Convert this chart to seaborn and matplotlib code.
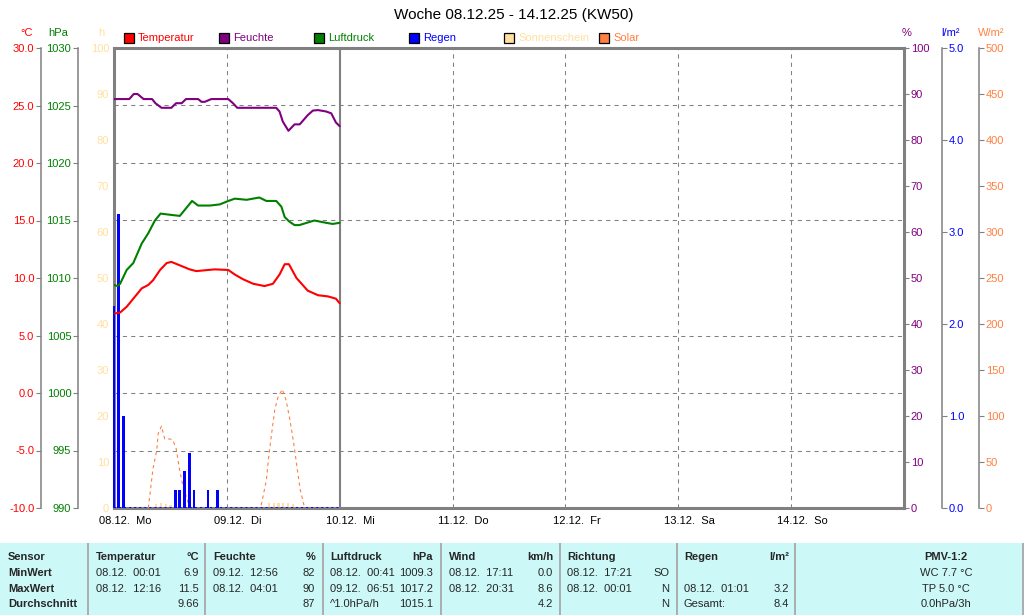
import numpy as np
import pandas as pd
import matplotlib
matplotlib.use("Agg")
import matplotlib.pyplot as plt
import matplotlib.ticker as mticker
from matplotlib.patches import Rectangle
from matplotlib.transforms import ScaledTranslation
import seaborn as sns

# ---------------- data (hours since 08.12. 00:00) ----------------
title_text = "Woche 08.12.25 - 14.12.25 (KW50)"
day_labels = ["08.12.  Mo", "09.12.  Di", "10.12.  Mi", "11.12.  Do",
              "12.12.  Fr", "13.12.  Sa", "14.12.  So"]

temp_hours = [0, 1.3, 2.7, 4.1, 5.9, 7.3, 8.3, 9.8, 11.2, 12.2, 14.0, 16.1, 17.5,
              21.4, 24.3, 25.7, 27.4, 29.6, 32.0, 33.8, 35.2, 36.3, 37.2, 38.8,
              41.2, 43.4, 45.5, 47.2, 48.0]
temp_values = [6.9, 7.0, 7.5, 8.2, 9.1, 9.4, 9.8, 10.7, 11.3, 11.4, 11.1, 10.75, 10.6,
               10.75, 10.7, 10.3, 9.9, 9.5, 9.3, 9.5, 10.3, 11.2, 11.2, 10.0,
               8.9, 8.5, 8.4, 8.2, 7.8]

hum_hours = [0, 3.25, 4.2, 5.0, 6.3, 8.1, 8.8, 10.1, 12.2, 13.2, 14.4, 15.3, 17.9,
             18.6, 19.3, 20.7, 24.3, 25.3, 26.2, 34.5, 35.2, 35.9, 37.1, 38.4, 39.5,
             41.2, 42.3, 43.4, 45.1, 46.2, 47.2, 48.0]
hum_values = [88.9, 88.9, 90.0, 90.0, 88.9, 88.9, 88.0, 87.0, 87.0, 88.0, 88.0, 88.9, 88.9,
              88.3, 88.3, 88.9, 88.9, 88.0, 87.0, 87.0, 86.2, 84.0, 82.0, 83.4, 83.4,
              85.4, 86.4, 86.5, 86.2, 85.8, 83.8, 83.0]

pres_hours = [0, 0.7, 1.3, 2.0, 2.7, 4.1, 5.9, 7.3, 8.7, 9.9, 11.9, 14.0, 15.4, 16.6,
              17.9, 20.4, 22.5, 24.3, 25.7, 28.2, 30.9, 32.4, 34.5, 35.6, 36.3, 37.3,
              38.4, 39.4, 42.6, 45.1, 46.5, 48.0]
pres_values = [1009.4, 1009.3, 1009.5, 1010.1, 1010.7, 1011.3, 1013.0, 1013.9, 1015.0,
               1015.6, 1015.5, 1015.4, 1016.1, 1016.7, 1016.3, 1016.3, 1016.4, 1016.7,
               1016.9, 1016.8, 1017.0, 1016.7, 1016.7, 1016.2, 1015.3, 1014.9, 1014.6,
               1014.6, 1015.0, 1014.8, 1014.7, 1014.8]

rain_hours = [0, 1, 2, 13, 14, 15, 16, 17, 20, 22]
rain_values = [2.2, 3.2, 1.0, 0.2, 0.2, 0.4, 0.6, 0.2, 0.2, 0.2]

sun_hours = [9, 10, 11, 12, 33, 34, 35, 36, 37, 38]
sun_values = [0.9, 1.1, 0.9, 0.6, 1.0, 1.0, 1.0, 1.0, 1.0, 0.8]

solar_day = ["Mo"] * 13 + ["Di"] * 13
solar_hours = [7.3, 8.3, 9.1, 9.4, 10.1, 10.8, 11.9, 12.5, 13.2, 13.9, 14.7, 15.4, 16.1,
               31.3, 32.4, 32.9, 33.7, 34.2, 34.9, 35.8, 36.6, 37.3, 38.2, 38.9, 39.6, 40.5]
solar_values = [0, 43, 63, 81, 89, 75, 75, 74, 65, 43, 23, 12, 0,
                3, 30, 56, 88, 107, 121, 129, 117, 99, 71, 45, 20, 1]

temp_ticks = np.arange(-10, 31, 5)
pres_ticks = np.arange(990, 1031, 5)
h_ticks = np.arange(0, 101, 10)
hum_ticks = np.arange(0, 101, 10)
rain_ticks = np.arange(0, 5.1, 1.0)
solar_ticks = np.arange(0, 501, 50)

legend_labels = ["Temperatur", "Feuchte", "Luftdruck", "Regen", "Sonnenschein", "Solar"]

tab_sensor = ["Sensor", "MinWert", "MaxWert", "Durchschnitt"]
tab_temp_l = ["Temperatur", "08.12.  00:01", "08.12.  12:16", ""]
tab_temp_r = ["°C", "6.9", "11.5", "9.66"]
tab_hum_l = ["Feuchte", "09.12.  12:56", "08.12.  04:01", ""]
tab_hum_r = ["%", "82", "90", "87"]
tab_pres_l = ["Luftdruck", "08.12.  00:41", "09.12.  06:51", "^1.0hPa/h"]
tab_pres_r = ["hPa", "1009.3", "1017.2", "1015.1"]
tab_wind_l = ["Wind", "08.12.  17:11", "08.12.  20:31", ""]
tab_wind_r = ["km/h", "0.0", "8.6", "4.2"]
tab_dir_l = ["Richtung", "08.12.  17:21", "08.12.  00:01", ""]
tab_dir_r = ["", "SO", "N", "N"]
tab_rain_l = ["Regen", "", "08.12.  01:01", "Gesamt:"]
tab_rain_r = ["l/m²", "", "3.2", "8.4"]
tab_pmv = ["PMV-1:2", "WC 7.7 °C", "TP 5.0 °C", "0.0hPa/3h"]

# ---------------- style ----------------
sns.set_theme(style="white")
plt.rcParams["font.family"] = ["Liberation Sans", "DejaVu Sans"]
plt.rcParams["font.size"] = 8

C_TEMP, C_HUM, C_PRES = "#FF0000", "#800080", "#008000"
C_RAIN, C_SUN, C_SOL = "#0000FF", "#FFE0A0", "#FF8040"
GRAY = "#808080"
TAB_BG = "#CCF8F8"
legend_colors = [C_TEMP, C_HUM, C_PRES, C_RAIN, C_SUN, C_SOL]

W, H, DPI = 1024, 615, 100
PL, PR, PT, PB = 114, 904, 48, 508
PW = PR - PL


def fx(px):
    return px / W


def fy(py):
    return 1 - py / H


fig = plt.figure(figsize=(W / DPI, H / DPI), dpi=DPI)
fig.patch.set_facecolor("white")

ax = fig.add_axes([fx(PL), fy(PB), PW / W, (PB - PT) / H])
n_days = len(day_labels)
xmax = 24 * n_days
ax.set_xlim(0, xmax)
ax.set_ylim(0, 100)
ax.set_facecolor("white")

# grid
grid_kw = dict(color=GRAY, lw=0.75, linestyle=(0, (4, 4)))
ax.set_yticks(h_ticks)
ax.set_yticklabels([str(v) for v in h_ticks])
ax.set_yticks(np.linspace(0, 100, len(temp_ticks))[1:-1], minor=True)
ax.tick_params(axis="y", which="both", length=0, pad=3.5, labelcolor=C_SUN, labelsize=8)
ax.grid(False)
ax.yaxis.grid(True, which="minor", **grid_kw)
day_ticks = np.arange(0, xmax + 1, 24)
ax.set_xticks(day_ticks)
ax.set_xticklabels(day_labels + [""])
ax.xaxis.grid(True, which="major", **grid_kw)
ax.tick_params(axis="x", length=2.5, width=1, color=GRAY, pad=3, labelsize=8,
               labelcolor="black", direction="out")
for lab in ax.get_xticklabels():
    lab.set_transform(lab.get_transform() + ScaledTranslation(11 / DPI, 0, fig.dpi_scale_trans))
for s in ax.spines.values():
    s.set_visible(True)
    s.set_color(GRAY)
    s.set_linewidth(2.2)
ax.set_axisbelow(True)

# "now" line at end of data
ax.axvline(max(temp_hours), color=GRAY, lw=1.5, zorder=1)

# sunshine bars
ax.bar(sun_hours, sun_values, width=0.5, color=C_SUN, linewidth=0, zorder=2)


def make_twin(side, offset_px, ylim, ticks, fmt, color):
    t = ax.twinx()
    t.set_ylim(*ylim)
    for s in t.spines.values():
        s.set_visible(False)
    if offset_px:
        sp = t.spines[side]
        sp.set_visible(True)
        pos = -offset_px / PW if side == "left" else 1 + offset_px / PW
        sp.set_position(("axes", pos))
        sp.set_color(GRAY)
        sp.set_linewidth(1.1)
    if side == "left":
        t.yaxis.tick_left()
    else:
        t.yaxis.tick_right()
    t.set_yticks(ticks)
    t.yaxis.set_major_formatter(mticker.FormatStrFormatter(fmt))
    t.tick_params(axis="y", color=GRAY, labelcolor=color, length=3.6, width=0.8,
                  pad=1.2, labelsize=8, direction="out")
    t.grid(False)
    return t


ax_sol = make_twin("right", 75, (0, 500), solar_ticks, "%d", C_SOL)
ax_rain = make_twin("right", 38, (0, 5), rain_ticks, "%.1f", C_RAIN)
ax_hum = make_twin("right", 0, (0, 100), hum_ticks, "%d", C_HUM)
ax_pres = make_twin("left", 36, (990, 1030), pres_ticks, "%d", C_PRES)
ax_temp = make_twin("left", 73, (-10, 30), temp_ticks, "%.1f", C_TEMP)

# solar (dashed)
df_sol = pd.DataFrame({"hour": solar_hours, "wm2": solar_values, "day": solar_day})
sns.lineplot(data=df_sol, x="hour", y="wm2", units="day", estimator=None, ax=ax_sol,
             color=C_SOL, lw=0.8, linestyle=(0, (3, 3)), legend=False)

# rain
rain_bars = ax_rain.bar(rain_hours, rain_values, width=0.6, color=C_RAIN, linewidth=0)
for b in rain_bars:
    b.set_clip_on(False)
ax_rain.hlines(0, min(temp_hours), max(temp_hours), color=C_RAIN, lw=1.4,
               linestyles=[(0, (1, 1.6))])

# lines
sns.lineplot(x=hum_hours, y=hum_values, ax=ax_hum, color=C_HUM, lw=1.5,
             estimator=None, errorbar=None, legend=False)
sns.lineplot(x=pres_hours, y=pres_values, ax=ax_pres, color=C_PRES, lw=1.5,
             estimator=None, errorbar=None, legend=False)
sns.lineplot(x=temp_hours, y=temp_values, ax=ax_temp, color=C_TEMP, lw=1.5,
             estimator=None, errorbar=None, legend=False)

for t, lim in [(ax_sol, (0, 500)), (ax_rain, (0, 5)), (ax_hum, (0, 100)),
               (ax_pres, (990, 1030)), (ax_temp, (-10, 30))]:
    t.set_xlim(0, xmax)
    t.set_ylim(*lim)
    t.set_xlabel("")
    t.set_ylabel("")

# unit labels
units = [("°C", 27, C_TEMP), ("hPa", 58, C_PRES), ("h", 101, C_SUN),
         ("%", 907, C_HUM), ("l/m²", 951, C_RAIN), ("W/m²", 991, C_SOL)]
for txt, x, c in units:
    fig.text(fx(x), fy(33), txt, color=c, ha="center", va="center", fontsize=8)

# title
fig.text(fx(514), fy(15), title_text, ha="center", va="center", fontsize=11, color="black")

# legend
for i, (lab, col) in enumerate(zip(legend_labels, legend_colors)):
    x0 = 124 + 95 * i
    fig.add_artist(Rectangle((fx(x0), fy(43)), 10 / W, 10 / H, transform=fig.transFigure,
                             facecolor=col, edgecolor="black", lw=0.9))
    fig.text(fx(x0 + 14), fy(38), lab, color=col, ha="left", va="center", fontsize=8)

# table
TT = 543
tab = fig.add_axes([0, 0, 1, (H - TT) / H])
tab.set_xlim(0, W)
tab.set_ylim(H, TT)
tab.set_facecolor(TAB_BG)
tab.set_xticks([])
tab.set_yticks([])
for s in tab.spines.values():
    s.set_visible(False)
for xs in [88, 205, 323, 441, 560, 677, 795, 1023]:
    tab.axvline(xs, color="#A8A8A8", lw=1.3)

row_y = [557, 573, 589, 604]
for r, y in enumerate(row_y):
    tab.text(8, y, tab_sensor[r], ha="left", va="center", fontsize=8, fontweight="bold")
    wt = "bold" if r == 0 else "normal"
    for (lx, rx, lcol, rcol) in [(96, 199, tab_temp_l, tab_temp_r),
                                 (213, 315, tab_hum_l, tab_hum_r),
                                 (330, 433, tab_pres_l, tab_pres_r),
                                 (449, 553, tab_wind_l, tab_wind_r),
                                 (567, 669, tab_dir_l, tab_dir_r),
                                 (684, 789, tab_rain_l, tab_rain_r)]:
        tab.text(lx, y, lcol[r], ha="left", va="center", fontsize=8, fontweight=wt)
        tab.text(rx, y, rcol[r], ha="right", va="center", fontsize=8, fontweight=wt)
    tab.text(946, y, tab_pmv[r], ha="center", va="center", fontsize=8, fontweight=wt)

fig.savefig("out.png", dpi=DPI)
